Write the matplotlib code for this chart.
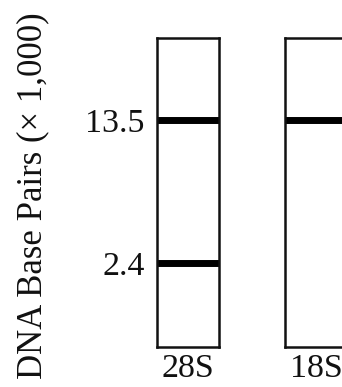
import matplotlib
matplotlib.use("Agg")
import matplotlib.pyplot as plt

# gel lanes and the bands seen in each (DNA size in kb)
lanes = ["28S", "18S"]
bands = {"28S": [13.5, 2.4], "18S": [13.5]}
tick_vals = [13.5, 2.4]
tick_labels = ["13.5", "2.4"]
ylabel = "DNA Base Pairs (\u00d7 1,000)"

plt.rcParams["font.family"] = ["Liberation Serif", "DejaVu Serif"]
fs = 24.5
lab_fs = 25

fig = plt.figure(figsize=(3.42, 3.87), dpi=100)
W, H = 342.0, 387.0
lane_left = [157, 285]
lane_w = 62
top, bottom = 38, 347

for i, lane in enumerate(lanes):
    ax = fig.add_axes([lane_left[i] / W, 1 - bottom / H, lane_w / W, (bottom - top) / H])
    ax.set_yscale("log")
    ax.set_ylim(0.87, 36.3)
    ax.set_xlim(0, 1)
    for b in bands[lane]:
        ax.axhline(b, color="black", lw=5, solid_capstyle="butt")
    for s in ax.spines.values():
        s.set_linewidth(1.8)
        s.set_color("#111111")
    ax.set_xticks([0.5])
    ax.set_xticklabels([lane], fontsize=fs, color="#111111")
    ax.tick_params(axis="x", length=0, pad=5)
    ax.yaxis.set_minor_locator(matplotlib.ticker.NullLocator())
    if i == 0:
        ax.set_yticks(tick_vals)
        ax.set_yticklabels(tick_labels, fontsize=fs, color="#111111")
        ax.tick_params(axis="y", length=0, pad=9)
    else:
        ax.set_yticks([])

fig.text(33 / W, 1 - 196 / H, ylabel, rotation=90, fontsize=lab_fs,
         ha="center", va="center", color="#111111")

fig.savefig("out.png", dpi=100)
